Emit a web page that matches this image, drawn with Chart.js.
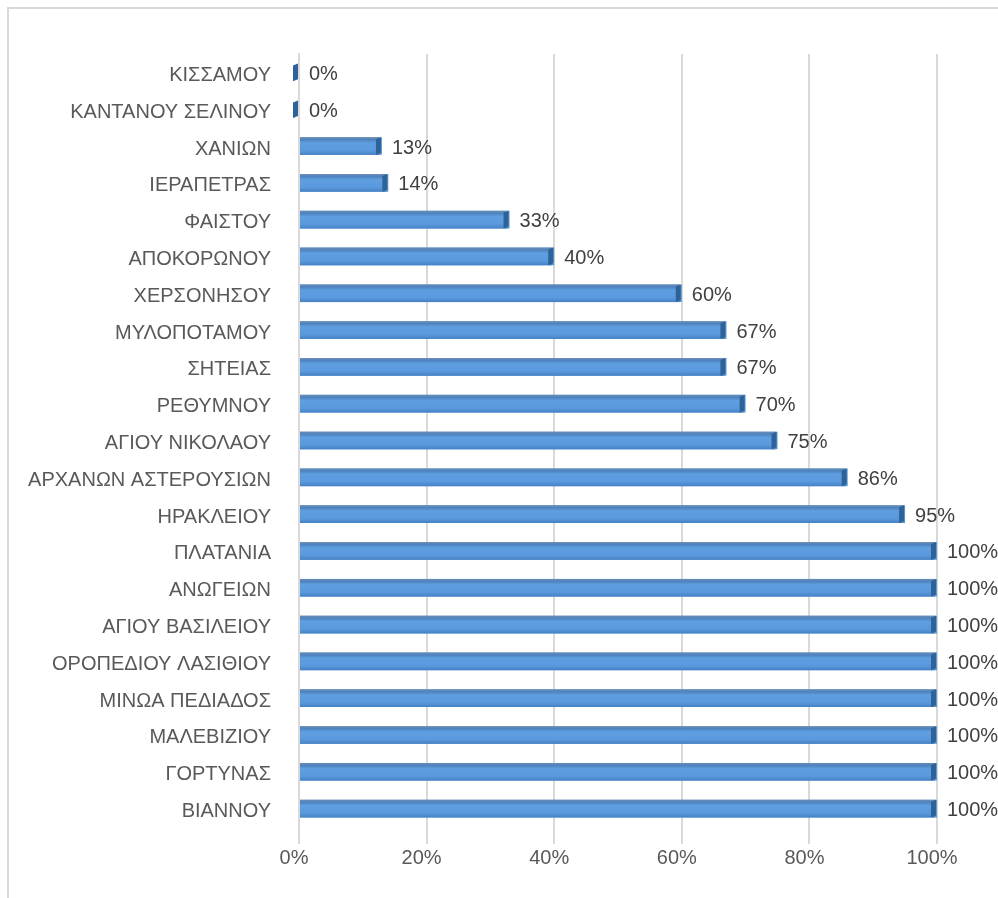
<!DOCTYPE html>
<html>
<head>
<meta charset="utf-8">
<script src="https://cdn.jsdelivr.net/npm/chart.js@4.4.1/dist/chart.umd.min.js"></script>
<style>
    html, body { margin: 0; padding: 0; background: #fff; overflow: hidden; }
    #marco { position: absolute; left: 7px; top: 7px; width: 1100px; height: 1100px; border: 2px solid #d9d9d9; }
    #contenedor { position: absolute; left: 0; top: 0; width: 998px; height: 898px; }
</style>
</head>
<body>
<div id="marco"></div>
<div id="contenedor"><canvas id="grafico"></canvas></div>
<script>
const dimos = [
    "ΚΙΣΣΑΜΟΥ", "ΚΑΝΤΑΝΟΥ ΣΕΛΙΝΟΥ", "ΧΑΝΙΩΝ", "ΙΕΡΑΠΕΤΡΑΣ", "ΦΑΙΣΤΟΥ",
    "ΑΠΟΚΟΡΩΝΟΥ", "ΧΕΡΣΟΝΗΣΟΥ", "ΜΥΛΟΠΟΤΑΜΟΥ", "ΣΗΤΕΙΑΣ", "ΡΕΘΥΜΝΟΥ",
    "ΑΓΙΟΥ ΝΙΚΟΛΑΟΥ", "ΑΡΧΑΝΩΝ ΑΣΤΕΡΟΥΣΙΩΝ", "ΗΡΑΚΛΕΙΟΥ", "ΠΛΑΤΑΝΙΑ", "ΑΝΩΓΕΙΩΝ",
    "ΑΓΙΟΥ ΒΑΣΙΛΕΙΟΥ", "ΟΡΟΠΕΔΙΟΥ ΛΑΣΙΘΙΟΥ", "ΜΙΝΩΑ ΠΕΔΙΑΔΟΣ", "ΜΑΛΕΒΙΖΙΟΥ", "ΓΟΡΤΥΝΑΣ",
    "ΒΙΑΝΝΟΥ"
];
const porcentajes = [0, 0, 13, 14, 33, 40, 60, 67, 67, 70, 75, 86, 95, 100, 100, 100, 100, 100, 100, 100, 100];
const ticksX = [0, 20, 40, 60, 80, 100];

const fuente = "'Liberation Sans', 'DejaVu Sans', sans-serif";

// degradado vertical, tapa oscura al final de la barra y etiqueta con el valor
const barras3D = {
    id: 'barras3D',
    afterDatasetsDraw(chart) {
        const ctx = chart.ctx;
        const meta = chart.getDatasetMeta(0);
        ctx.save();
        meta.data.forEach((bar, i) => {
            const h = bar.height;
            const top = bar.y - h / 2;
            const x = bar.x - 2;

            if (bar.x - bar.base > 1) {
                const g = ctx.createLinearGradient(0, top, 0, top + h);
                g.addColorStop(0, '#6d8db3');
                g.addColorStop(0.14, '#4d82be');
                g.addColorStop(0.32, '#5f9ee0');
                g.addColorStop(0.75, '#5a99dd');
                g.addColorStop(1, '#4580c4');
                ctx.fillStyle = g;
                ctx.fillRect(bar.base, top, x - bar.base, h);
            }

            ctx.fillStyle = '#30629a';
            ctx.beginPath();
            ctx.moveTo(x - 4, top + 2);
            ctx.lineTo(x + 1, top);
            ctx.lineTo(x + 1, top + h - 2);
            ctx.lineTo(x - 4, top + h);
            ctx.closePath();
            ctx.fill();

            ctx.fillStyle = '#404040';
            ctx.font = '20px ' + fuente;
            ctx.textAlign = 'left';
            ctx.textBaseline = 'middle';
            ctx.fillText(porcentajes[i] + '%', bar.x + 10, bar.y + 2);
        });
        ctx.restore();
    }
};

new Chart(document.getElementById('grafico'), {
    type: 'bar',
    data: {
        labels: dimos,
        datasets: [{
            data: porcentajes,
            backgroundColor: '#5b9bd5',
            borderWidth: 0,
            barPercentage: 0.48,
            categoryPercentage: 1
        }]
    },
    options: {
        indexAxis: 'y',
        responsive: true,
        maintainAspectRatio: false,
        animation: false,
        layout: { padding: { left: 0, right: 61, top: 54, bottom: 0 } },
        plugins: { legend: { display: false }, tooltip: { enabled: false } },
        scales: {
            x: {
                min: 0,
                max: 100,
                afterBuildTicks: scale => { scale.ticks = ticksX.map(v => ({ value: v })); },
                afterFit: scale => { scale.height = 898 - 827; },
                grid: { color: '#d9d9d9', lineWidth: 2, tickLength: 17, drawTicks: true },
                border: { display: false },
                ticks: {
                    color: '#595959',
                    padding: 2,
                    labelOffset: -5,
                    font: { family: fuente, size: 20 },
                    callback: v => v + '%'
                }
            },
            y: {
                afterFit: scale => { scale.width = 299; },
                grid: { display: false, drawTicks: false },
                border: { display: true, color: '#d9d9d9', width: 2 },
                ticks: {
                    color: '#595959',
                    padding: 28,
                    labelOffset: 3,
                    font: { family: fuente, size: 20 }
                }
            }
        }
    },
    plugins: [barras3D]
});
</script>
</body>
</html>
